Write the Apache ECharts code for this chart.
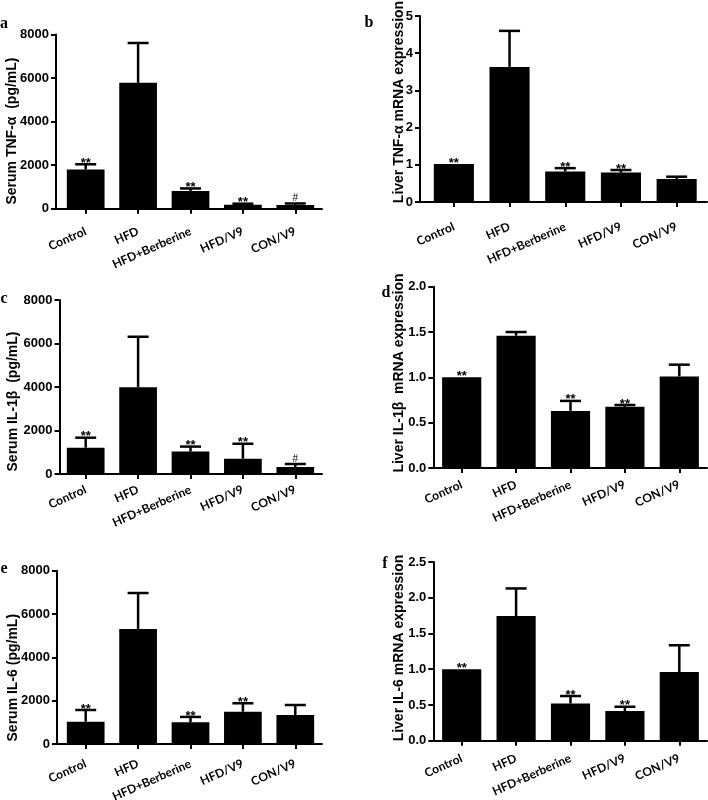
<!DOCTYPE html>
<html><head><meta charset="utf-8">
<script src="https://cdn.jsdelivr.net/npm/echarts@6/dist/echarts.min.js"></script>
<style>html,body{margin:0;padding:0;background:#fff}#c{width:708px;height:800px}</style>
</head><body><div id="c"></div>
<script>
// ---- data ----
const categories = ["Control", "HFD", "HFD+Berberine", "HFD/V9", "CON/V9"];

const aMean = [1800, 5780, 810, 180, 170];
const aTop  = [2040, 7610, 930, 230, 240];
const aMarks = ["**", "", "**", "**", "#"];
const aTicks = [0, 2000, 4000, 6000, 8000];

const bMean = [1.02, 3.63, 0.82, 0.79, 0.62];
const bTop  = [1.02, 4.6, 0.91, 0.86, 0.68];
const bMarks = ["**", "", "**", "**", ""];
const bTicks = [0, 1, 2, 3, 4, 5];

const cMean = [1210, 3990, 1030, 705, 320];
const cTop  = [1670, 6310, 1260, 1390, 460];
const cMarks = ["**", "", "**", "**", "#"];
const cTicks = [0, 2000, 4000, 6000, 8000];

const dMean = [1.0, 1.46, 0.63, 0.675, 1.01];
const dTop  = [1.0, 1.5, 0.74, 0.695, 1.14];
const dMarks = ["**", "", "**", "**", ""];
const dTicks = [0, 0.5, 1.0, 1.5, 2.0];

const eMean = [1030, 5310, 1000, 1490, 1340];
const eTop  = [1570, 6970, 1250, 1880, 1800];
const eMarks = ["**", "", "**", "**", ""];
const eTicks = [0, 2000, 4000, 6000, 8000];

const fMean = [1.0, 1.745, 0.52, 0.415, 0.96];
const fTop  = [1.0, 2.13, 0.625, 0.475, 1.335];
const fMarks = ["**", "", "**", "**", ""];
const fTicks = [0, 0.5, 1.0, 1.5, 2.0, 2.5];

const titles = {
  a: "Serum TNF-\u03b1  (pg/mL)",
  b: "Liver TNF-\u03b1 mRNA expression",
  c: "Serum IL-1\u03b2  (pg/mL)",
  d: "Liver IL-1\u03b2  mRNA expression",
  e: "Serum IL-6 (pg/mL)",
  f: "Liver IL-6 mRNA expression"
};

// ---- layout ----
const panels = [
  {k:'a', mean:aMean, top:aTop, marks:aMarks, ticks:aTicks, dec:0, axisX:56, bandL:59.5, bandW:262, lineEnd:322, t:34.5, b:208.7, tx:12.5, ty:131, lx:4, ly:24, lm:22},
  {k:'b', mean:bMean, top:bTop, marks:bMarks, ticks:bTicks, dec:0, axisX:420, bandL:426, bandW:278.5, lineEnd:707, t:16, b:202, tx:399, ty:102, lx:369, ly:23, lm:24},
  {k:'c', mean:cMean, top:cTop, marks:cMarks, ticks:cTicks, dec:0, axisX:59.5, bandL:59.5, bandW:262, lineEnd:322, t:300, b:474, tx:13, ty:401.5, lx:4, ly:299, lm:15},
  {k:'d', mean:dMean, top:dTop, marks:dMarks, ticks:dTicks, dec:1, axisX:433.3, bandL:434.5, bandW:272, lineEnd:707, t:286.7, b:468, tx:399, ty:373, lx:386, ly:293, lm:16},
  {k:'e', mean:eMean, top:eTop, marks:eMarks, ticks:eTicks, dec:0, axisX:57, bandL:59.5, bandW:262, lineEnd:322, t:570.7, b:744, tx:13, ty:677.7, lx:4, ly:569, lm:19},
  {k:'f', mean:fMean, top:fTop, marks:fMarks, ticks:fTicks, dec:1, axisX:433.3, bandL:434.5, bandW:272, lineEnd:707, t:562, b:740.7, tx:399, ty:648, lx:385, ly:564, lm:17}
];

const grid = [], xAxis = [], yAxis = [], series = [], graphic = [];
const AX = {color:'#000', width:2};

function makeRender(p){
  return function(params, api){
    const i = api.value(0), mean = api.value(1), top = api.value(2);
    const base = api.coord([i, mean]);
    const tp = api.coord([i, top]);
    const ch = [];
    if (top > mean) {
      ch.push({type:'line', shape:{x1:base[0], y1:base[1], x2:tp[0], y2:tp[1]}, style:{stroke:'#000', lineWidth:2.5}});
      ch.push({type:'line', shape:{x1:tp[0]-10.5, y1:tp[1], x2:tp[0]+10.5, y2:tp[1]}, style:{stroke:'#000', lineWidth:2.5}});
    }
    const m = p.marks[params.dataIndex];
    if (m) {
      const hash = m === '#';
      ch.push({type:'text', x:tp[0], y:tp[1] - (hash ? 5 : 1),
        style:{text:m, font: hash ? 'normal 10px "Liberation Sans"' : 'bold 13px "Liberation Sans"',
               fill:'#000', align:'center', verticalAlign:'middle'}});
    }
    return {type:'group', children:ch};
  };
}

panels.forEach((p) => {
  const min = p.ticks[0], max = p.ticks[p.ticks.length-1], interval = p.ticks[1]-p.ticks[0];
  const gi = grid.length;
  grid.push({left:p.axisX, width:p.lineEnd - p.axisX, top:p.t, height:p.b - p.t, containLabel:false, outerBoundsMode:'none'});
  grid.push({left:p.bandL, width:p.bandW, top:p.t, height:p.b - p.t, containLabel:false, outerBoundsMode:'none'});
  xAxis.push({gridIndex:gi, type:'value', min:0, max:1, axisLine:{show:true, lineStyle:AX},
    axisTick:{show:false}, axisLabel:{show:false}, splitLine:{show:false}});
  yAxis.push({gridIndex:gi, type:'value', min:min, max:max, interval:interval,
    axisLine:{show:true, lineStyle:AX}, axisTick:{show:true, length:5, lineStyle:AX},
    splitLine:{show:false},
    axisLabel:{color:'#000', fontWeight:700, fontSize:13, fontFamily:'Liberation Sans', margin:7,
      formatter: v => Number(v).toFixed(p.dec)}});
  xAxis.push({gridIndex:gi+1, type:'category', data:categories, boundaryGap:true,
    axisLine:{show:false}, axisTick:{show:true, alignWithLabel:true, length:5, lineStyle:AX},
    axisLabel:{interval:0, rotate:24, color:'#000', fontWeight:700, fontSize:12, fontFamily:'Lato', margin:p.lm}});
  yAxis.push({gridIndex:gi+1, type:'value', min:min, max:max, interval:interval, show:false});
  series.push({type:'bar', xAxisIndex:gi+1, yAxisIndex:gi+1, data:p.mean, barWidth:'72%',
    itemStyle:{color:'#000'}, silent:true});
  series.push({type:'custom', xAxisIndex:gi+1, yAxisIndex:gi+1, renderItem:makeRender(p),
    encode:{x:0, y:[1,2]}, data:categories.map((c,i)=>[i, p.mean[i], p.top[i]]), z:5, silent:true});
  graphic.push({type:'text', x:p.tx, y:p.ty, rotation:Math.PI/2,
    style:{text:titles[p.k], font:'bold 14px "Liberation Sans"', fill:'#000', align:'center', verticalAlign:'middle'}});
  graphic.push({type:'text', x:p.lx, y:p.ly,
    style:{text:p.k, font:'bold 16px "Liberation Serif"', fill:'#000', align:'center', verticalAlign:'middle'}});
});

const chart = echarts.init(document.getElementById('c'), null, {renderer:'canvas'});
chart.setOption({animation:false, backgroundColor:'#fff', grid, xAxis, yAxis, series, graphic});
</script>
</body></html>
